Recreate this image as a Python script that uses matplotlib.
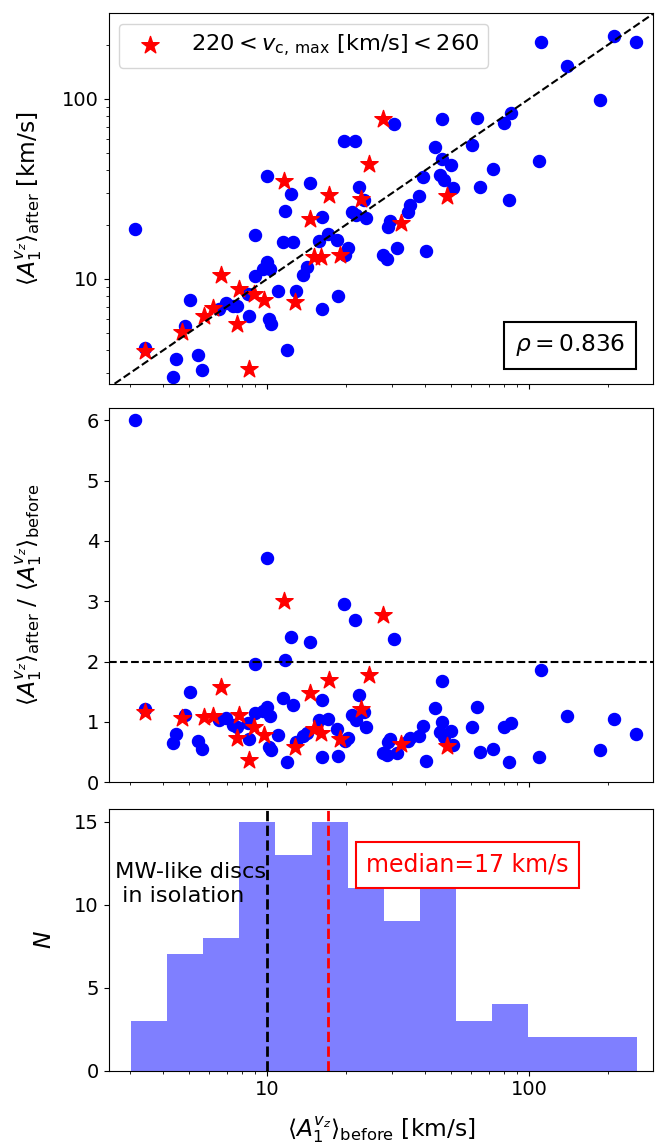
import numpy as np
import matplotlib
matplotlib.use('Agg')
import matplotlib.pyplot as plt
from matplotlib.ticker import FuncFormatter, NullFormatter

# ---------------- data ----------------
x_blue = [3.13, 11.65, 8.95, 11.47, 12.57, 10.0, 9.60, 10.27, 8.95, 11.02, 12.9, 5.08, 6.96, 7.38,
          7.66, 6.56, 8.54, 10.1, 10.35, 4.86, 3.41, 4.48, 5.44, 5.65, 4.35, 11.92, 8.4, 10.0,
          46.2, 30.5, 19.6, 21.6, 43.6, 46.2, 50.4, 60.6, 14.59, 12.32, 39.3, 45.6, 47.0, 51.0,
          22.3, 23.4, 37.9, 35.1, 34.4, 21.1, 23.8, 21.8, 16.18, 29.4, 28.9, 17.0, 15.8, 18.4,
          20.3, 19.8, 14.21, 13.65, 18.6, 16.2, 31.1, 27.6, 28.6, 40.2,
          111.0, 210.5, 255.5, 139.3, 186.2, 63.2, 84.9, 79.9, 72.9, 65.0, 83.6, 109.2]
y_blue = [18.8, 23.7, 17.5, 16.05, 16.05, 12.43, 11.32, 11.32, 10.31, 8.55, 8.58, 7.64, 7.36, 7.05,
          7.05, 6.76, 6.18, 5.95, 5.6, 5.46, 4.12, 3.56, 3.75, 3.12, 2.83, 4.03, 8.2, 37.2,
          77.4, 72.6, 58.0, 58.0, 53.9, 46.2, 43.0, 55.2, 34.0, 29.7, 36.9, 37.7, 35.3, 31.9,
          32.2, 27.4, 28.9, 25.7, 23.6, 23.5, 21.7, 22.5, 22.0, 21.0, 19.3, 17.7, 16.3, 16.4,
          14.8, 13.5, 11.66, 10.44, 8.01, 6.79, 14.9, 13.5, 12.8, 14.3,
          205.7, 222.0, 206.5, 152.5, 98.3, 78.4, 83.0, 73.6, 40.7, 32.2, 27.4, 45.2]

x_star = [3.41, 4.73, 5.72, 6.22, 6.66, 7.78, 7.69, 8.92, 9.74, 8.49, 27.7, 24.4, 11.58, 17.25,
          22.7, 48.4, 14.56, 32.3, 15.1, 16.0, 18.9, 12.8]
y_star = [3.95, 5.04, 6.23, 6.85, 10.49, 8.73, 5.60, 8.19, 7.62, 3.14, 76.8, 43.4, 34.8, 29.3,
          27.6, 28.8, 21.5, 20.3, 13.25, 13.15, 13.5, 7.39]

hist_counts = [3, 7, 8, 15, 13, 15, 11, 9, 11, 3, 4, 2, 2, 2]
hist_min, hist_max = 3.015, 257.0

rho = 0.836
median_before = 17
mw_isolation = 10

legend_label = r'$220 < v_{\rm c,\,max}\ [{\rm km/s}] < 260$'
xlabel = r'$\langle A_1^{v_z}\rangle_{\rm before}$ [km/s]'
ylabel_top = r'$\langle A_1^{v_z}\rangle_{\rm after}$ [km/s]'
ylabel_mid = r'$\langle A_1^{v_z}\rangle_{\rm after}$ / $\langle A_1^{v_z}\rangle_{\rm before}$'

# ---------------- figure ----------------
plt.rcParams['font.family'] = ['DejaVu Sans']
plt.rcParams['mathtext.fontset'] = 'dejavusans'
plt.rcParams['font.size'] = 14
plt.rcParams['xtick.labelsize'] = 14
plt.rcParams['ytick.labelsize'] = 14

LAB = 16.8
TXT = 16.2

xb, yb = np.array(x_blue), np.array(y_blue)
xs, ys = np.array(x_star), np.array(y_star)

fig = plt.figure(figsize=(6.6, 11.44), dpi=100)
L, W = 0.1647, 0.8252
ax1 = fig.add_axes([L, 0.6643, W, 0.3240])
ax2 = fig.add_axes([L, 0.3162, W, 0.3269])
ax3 = fig.add_axes([L, 0.0641, W, 0.2285])

xlim = (2.48, 297)
fmt = FuncFormatter(lambda v, _: f'{v:g}')
YLAB_X = -0.118

# top panel
ax1.scatter(xb, yb, s=75, color='b', zorder=2)
ax1.scatter(xs, ys, s=170, marker='*', color='r', zorder=3, label=legend_label)
ax1.plot([1, 1000], [1, 1000], 'k--', lw=1.5, zorder=4)
ax1.set_xscale('log')
ax1.set_yscale('log')
ax1.set_xlim(*xlim)
ax1.set_ylim(2.6, 298)
ax1.yaxis.set_major_formatter(fmt)
ax1.yaxis.set_minor_formatter(NullFormatter())
ax1.xaxis.set_major_formatter(NullFormatter())
ax1.xaxis.set_minor_formatter(NullFormatter())
ax1.set_ylabel(ylabel_top, fontsize=LAB)
ax1.yaxis.set_label_coords(YLAB_X, 0.5)
ax1.legend(loc='upper left', scatterpoints=1, fontsize=TXT, borderaxespad=0.45)
ax1.text(0.847, 0.105, r'$\rho = %.3f$' % rho, transform=ax1.transAxes, ha='center', va='center',
         fontsize=LAB, bbox=dict(boxstyle='square,pad=0.45', fc='white', ec='k', lw=1.5))

# middle panel
ax2.scatter(xb, yb / xb, s=75, color='b', zorder=2)
ax2.scatter(xs, ys / xs, s=170, marker='*', color='r', zorder=3)
ax2.axhline(2, color='k', ls='--', lw=1.5)
ax2.set_xscale('log')
ax2.set_xlim(*xlim)
ax2.set_ylim(0, 6.2)
ax2.xaxis.set_major_formatter(NullFormatter())
ax2.xaxis.set_minor_formatter(NullFormatter())
ax2.set_ylabel(ylabel_mid, fontsize=LAB)
ax2.yaxis.set_label_coords(YLAB_X, 0.5)

# bottom panel
edges = np.logspace(np.log10(hist_min), np.log10(hist_max), len(hist_counts) + 1)
centers = np.sqrt(edges[:-1] * edges[1:])
ax3.hist(centers, bins=edges, weights=hist_counts, color='b', alpha=0.5)
ax3.axvline(mw_isolation, color='k', ls='--', lw=2)
ax3.axvline(median_before, color='r', ls='--', lw=2)
ax3.set_xscale('log')
ax3.set_xlim(*xlim)
ax3.set_ylim(0, 15.75)
ax3.set_yticks([0, 5, 10, 15])
ax3.xaxis.set_major_formatter(fmt)
ax3.xaxis.set_minor_formatter(NullFormatter())
ax3.set_xlabel(xlabel, fontsize=LAB, labelpad=11)
ax3.set_ylabel(r'$N$', fontsize=LAB)
ax3.yaxis.set_label_coords(-0.096, 0.5)
ax3.text(0.012, 0.714, 'MW-like discs\n in isolation', transform=ax3.transAxes,
         ha='left', va='center', fontsize=TXT, color='k')
ax3.text(0.659, 0.787, 'median=%d km/s' % median_before, transform=ax3.transAxes,
         ha='center', va='center', fontsize=17, color='r',
         bbox=dict(boxstyle='square,pad=0.45', fc='white', ec='r', lw=1.5))

fig.savefig('out.png', dpi=100)
